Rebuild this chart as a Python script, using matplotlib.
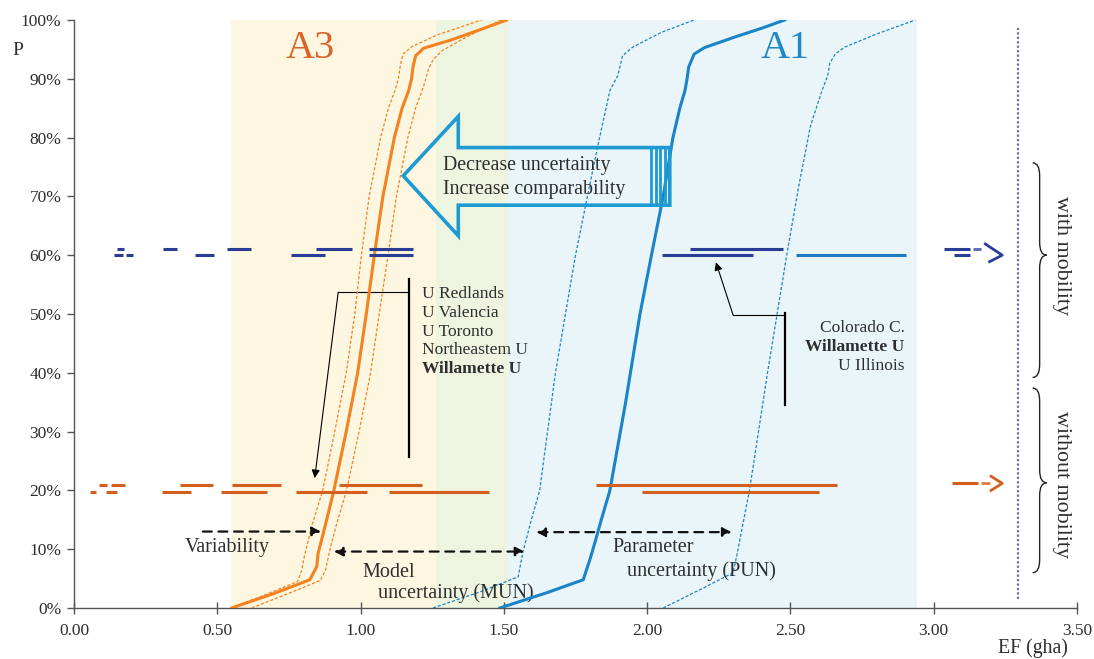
import matplotlib
matplotlib.use("Agg")
import matplotlib.pyplot as plt
from matplotlib.path import Path
from matplotlib.patches import PathPatch, Polygon
from matplotlib.ticker import FuncFormatter

plt.rcParams['font.family'] = ['Liberation Serif', 'DejaVu Serif']

# ---------------- data ----------------
# A3 cumulative curves (EF in gha, P in %)
a3_mid_x = [0.55, 0.70, 0.823, 0.847, 0.852, 0.87, 0.907, 0.95, 0.99, 1.02, 1.048, 1.078, 1.118, 1.145, 1.168, 1.178, 1.183, 1.192, 1.22, 1.316, 1.42, 1.51]
a3_mid_p = [0, 2.5, 4.8, 7, 9.3, 12.7, 20, 30, 40, 50, 60, 70, 80, 85, 88, 90, 92, 93.9, 95.2, 96.6, 98.4, 100]
a3_lo_x = [0.55, 0.68, 0.78, 0.795, 0.805, 0.83, 0.868, 0.91, 0.95, 0.98, 1.003, 1.03, 1.07, 1.097, 1.12, 1.132, 1.138, 1.148, 1.18, 1.27, 1.422]
a3_lo_p = [0, 2.5, 4.5, 6.5, 9, 14, 20, 30, 40, 50, 60, 70, 80, 85, 88, 90, 92, 94.2, 95.5, 97.5, 100]
a3_hi_x = [0.62, 0.75, 0.86, 0.878, 0.893, 0.915, 0.951, 0.995, 1.035, 1.065, 1.096, 1.125, 1.165, 1.192, 1.215, 1.228, 1.238, 1.254, 1.285, 1.37, 1.49]
a3_hi_p = [0, 2.5, 4.7, 6.5, 9.9, 14, 20, 30, 40, 50, 60, 70, 80, 85, 88, 90, 91.8, 93.3, 94.8, 97.1, 100]

# A1 cumulative curves
a1_mid_x = [1.486, 1.65, 1.777, 1.80, 1.817, 1.84, 1.87, 1.925, 1.975, 2.015, 2.056, 2.09, 2.114, 2.132, 2.139, 2.145, 2.164, 2.20, 2.312, 2.40, 2.48]
a1_mid_p = [0, 2.6, 4.8, 8.2, 11, 15, 20, 35, 50, 60, 70, 80, 85, 88, 89.9, 92, 94.2, 95.3, 97.2, 98.6, 100]
a1_lo_x = [1.253, 1.42, 1.55, 1.567, 1.596, 1.625, 1.68, 1.75, 1.80, 1.834, 1.87, 1.897, 1.905, 1.914, 1.95, 2.05, 2.164]
a1_lo_p = [0, 2.8, 5.3, 9.6, 15, 20, 40, 60, 72, 80, 88, 90.5, 92, 93.9, 95.4, 97.9, 100]
a1_hi_x = [2.056, 2.20, 2.30, 2.312, 2.325, 2.357, 2.42, 2.487, 2.53, 2.57, 2.61, 2.63, 2.637, 2.656, 2.69, 2.80, 2.936]
a1_hi_p = [0, 3.5, 6, 8.75, 12, 20, 40, 60, 72, 82, 88, 90.5, 92.6, 94.2, 95.4, 97.6, 100]

# shaded regions (EF ranges)
region_a3 = (0.548, 1.514)
region_a1 = (1.263, 2.94)

# horizontal ranges "with mobility" (~60%)
mob_upper = [(0.151, 0.175), (0.312, 0.358), (0.533, 0.617), (0.844, 0.971), (1.030, 1.184), (2.149, 2.474)]
mob_lower = [(0.140, 0.172), (0.180, 0.207), (0.422, 0.489), (0.756, 0.875), (1.030, 1.184), (2.053, 2.369)]
mob_lower_light = [(2.521, 2.904)]
# horizontal ranges "without mobility" (~20%)
nomob_upper = [(0.088, 0.117), (0.131, 0.178), (0.370, 0.486), (0.552, 0.724), (0.925, 1.213), (1.823, 2.662)]
nomob_lower = [(0.056, 0.077), (0.112, 0.149), (0.306, 0.407), (0.513, 0.674), (0.774, 1.021), (1.100, 1.449), (1.982, 2.600)]

univ_a3 = ["U Redlands", "U Valencia", "U Toronto", "Northeastem U", "Willamette U"]
univ_a1 = ["Colorado C.", "Willamette U", "U Illinois"]

x_ticks = [0.0, 0.5, 1.0, 1.5, 2.0, 2.5, 3.0, 3.5]
y_ticks = [0, 10, 20, 30, 40, 50, 60, 70, 80, 90, 100]

# ---------------- colors ----------------
ORANGE = '#F58220'
BLUE = '#1B84C8'
NAVY = '#2A3D96'
LBLUE = '#1E78C2'
RUST = '#D35E1E'
ARROWBLUE = '#1E9AD3'
TXT = '#2E2E2E'

fig = plt.figure(figsize=(10.94, 6.59), dpi=100)
ax = fig.add_axes([0.0676, 0.0774, 0.9169, 0.8923])
ax.set_xlim(0, 3.5)
ax.set_ylim(0, 100)

# background regions
ax.axvspan(region_a3[0], region_a1[0], color='#FDF6E1', lw=0, zorder=0)
ax.axvspan(region_a1[0], region_a3[1], color='#EDF5E1', lw=0, zorder=0)
ax.axvspan(region_a3[1], region_a1[1], color='#E9F5F8', lw=0, zorder=0)

# curves
dash = (0, (2.5, 1.5))
ax.plot(a3_lo_x, a3_lo_p, color=ORANGE, lw=0.9, ls=dash, zorder=3)
ax.plot(a3_hi_x, a3_hi_p, color=ORANGE, lw=0.9, ls=dash, zorder=3)
ax.plot(a3_mid_x, a3_mid_p, color=ORANGE, lw=2.2, zorder=4, solid_joinstyle='round')
ax.plot(a1_lo_x, a1_lo_p, color=BLUE, lw=0.9, ls=dash, zorder=3)
ax.plot(a1_hi_x, a1_hi_p, color=BLUE, lw=0.9, ls=dash, zorder=3)
ax.plot(a1_mid_x, a1_mid_p, color=BLUE, lw=2.2, zorder=4, solid_joinstyle='round')

# horizontal range segments
def segs(lst, y, color):
    for a, b in lst:
        ax.plot([a, b], [y, y], color=color, lw=2.2, solid_capstyle='butt', zorder=5)

segs(mob_upper, 61.0, NAVY)
segs(mob_lower, 60.0, NAVY)
segs(mob_lower_light, 60.0, LBLUE)
segs(nomob_upper, 21.0, RUST)
segs(nomob_lower, 19.8, RUST)

# continuation arrows on the right
ax.plot([3.037, 3.125], [61.0, 61.0], color=NAVY, lw=2.2, solid_capstyle='butt')
ax.plot([3.072, 3.125], [60.0, 60.0], color=NAVY, lw=2.2, solid_capstyle='butt')
ax.plot([3.137, 3.166], [61.0, 61.0], color='#5565B5', lw=2.0, solid_capstyle='butt')
ax.plot([3.180, 3.239, 3.195], [61.9, 60.0, 58.9], color=NAVY, lw=2.0)
ax.plot([3.065, 3.154], [21.2, 21.2], color=RUST, lw=2.2, solid_capstyle='butt')
ax.plot([3.166, 3.198], [21.2, 21.2], color='#E07B45', lw=2.0, solid_capstyle='butt')
ax.plot([3.200, 3.239, 3.200], [22.4, 21.2, 20.0], color=RUST, lw=2.0)

# dotted vertical separator
ax.plot([3.293, 3.293], [1.5, 98.6], color='#6670AA', lw=1.6, ls=(0, (1, 1)))

# braces
def brace(x0, x1, ytop, ybot, ymid, r=2.2):
    xm = (x0 + x1) / 2
    verts = [(x0, ytop), (xm, ytop), (xm, ytop - r),
             (xm, ymid + r), (xm, ymid), (x1, ymid),
             (xm, ymid), (xm, ymid - r),
             (xm, ybot + r), (xm, ybot), (x0, ybot)]
    codes = [Path.MOVETO, Path.CURVE3, Path.CURVE3,
             Path.LINETO, Path.CURVE3, Path.CURVE3,
             Path.CURVE3, Path.CURVE3,
             Path.LINETO, Path.CURVE3, Path.CURVE3]
    ax.add_patch(PathPatch(Path(verts, codes), fill=False, lw=1.0, color='#222222'))

brace(3.345, 3.394, 75.7, 39.2, 60.0)
brace(3.345, 3.394, 37.4, 6.0, 21.3)
ax.text(3.447, 60.0, "with mobility", rotation=270, ha='center', va='center', fontsize=15.8, color=TXT)
ax.text(3.447, 21.0, "without mobility", rotation=270, ha='center', va='center', fontsize=15.8, color=TXT)

# big hollow arrow
arrow_pts = [(1.149, 73.5), (1.341, 83.6), (1.341, 78.3), (2.079, 78.3),
             (2.079, 68.5), (1.341, 68.5), (1.341, 63.3)]
ax.add_patch(Polygon(arrow_pts, closed=True, fill=False, ec=ARROWBLUE, lw=2.6, joinstyle='miter', zorder=6))
for xb in [2.015, 2.030, 2.046, 2.062]:
    ax.plot([xb, xb], [68.5, 78.3], color=ARROWBLUE, lw=2.0, zorder=6)
ax.text(1.286, 75.3, "Decrease uncertainty", fontsize=14.3, color=TXT, va='center', ha='left', zorder=7)
ax.text(1.286, 71.1, "Increase comparability", fontsize=14.3, color=TXT, va='center', ha='left', zorder=7)

# region labels
ax.text(0.823, 95.2, "A3", fontsize=29, color='#D8652A', ha='center', va='center')
ax.text(2.48, 95.2, "A1", fontsize=29, color='#1E88C8', ha='center', va='center')

# university lists
y0 = 53.4
for i, name in enumerate(univ_a3):
    ax.text(1.214, y0 - i * 3.19, name, fontsize=12.5, color=TXT, va='center', ha='left',
            fontweight='bold' if name == "Willamette U" else 'normal')
y1 = 47.6
for i, name in enumerate(univ_a1):
    ax.text(2.898, y1 - i * 3.19, name, fontsize=12.5, color=TXT, va='center', ha='right',
            fontweight='bold' if i == 1 else 'normal')

# annotation leader lines
ax.plot([1.169, 1.169], [25.6, 55.9], color='black', lw=1.6)
ax.plot([1.169, 0.922], [53.7, 53.7], color='black', lw=0.8)
ax.annotate("", xy=(0.840, 22.1), xytext=(0.922, 53.7),
            arrowprops=dict(arrowstyle='-|>', color='black', lw=0.8, mutation_scale=12, shrinkA=0, shrinkB=0))
ax.plot([2.481, 2.481], [34.5, 50.2], color='black', lw=1.6)
ax.plot([2.481, 2.30], [49.8, 49.8], color='black', lw=0.8)
ax.annotate("", xy=(2.240, 58.8), xytext=(2.30, 49.8),
            arrowprops=dict(arrowstyle='-|>', color='black', lw=0.8, mutation_scale=12, shrinkA=0, shrinkB=0))

# dashed uncertainty arrows
dash_kw = dict(color='#111111', lw=1.6, linestyle=(0, (4, 3)), mutation_scale=13, shrinkA=0, shrinkB=0)
ax.annotate("", xy=(0.862, 13.0), xytext=(0.45, 13.0), arrowprops=dict(arrowstyle='-|>', **dash_kw))
ax.annotate("", xy=(1.572, 9.6), xytext=(0.907, 9.6), arrowprops=dict(arrowstyle='<|-|>', **dash_kw))
ax.annotate("", xy=(2.295, 12.9), xytext=(1.613, 12.9), arrowprops=dict(arrowstyle='<|-|>', **dash_kw))

ax.text(0.385, 10.3, "Variability", fontsize=14.5, color=TXT, ha='left', va='center')
ax.text(1.008, 6.0, "Model", fontsize=14.5, color=TXT, ha='left', va='center')
ax.text(1.06, 2.5, "uncertainty (MUN)", fontsize=14.5, color=TXT, ha='left', va='center')
ax.text(1.88, 10.3, "Parameter", fontsize=14.5, color=TXT, ha='left', va='center')
ax.text(1.929, 6.2, "uncertainty (PUN)", fontsize=14.5, color=TXT, ha='left', va='center')

# axes styling
for s in ['top', 'right']:
    ax.spines[s].set_visible(False)
for s in ['left', 'bottom']:
    ax.spines[s].set_color('#555555')
    ax.spines[s].set_linewidth(1.0)
ax.set_xticks(x_ticks)
ax.set_yticks(y_ticks)
ax.xaxis.set_major_formatter(FuncFormatter(lambda v, p: f"{v:.2f}"))
ax.yaxis.set_major_formatter(FuncFormatter(lambda v, p: f"{int(round(v))}%"))
ax.tick_params(axis='x', direction='inout', length=8, width=1, colors='#555555', labelcolor=TXT, labelsize=12.5, pad=7)
ax.tick_params(axis='y', direction='out', length=5, width=1, colors='#555555', labelcolor=TXT, labelsize=12.5, pad=4)

fig.text(0.0165, 0.924, "P", fontsize=14, color=TXT, ha='center', va='center')
fig.text(0.944, 0.0167, "EF (gha)", fontsize=14.2, color=TXT, ha='center', va='center')

fig.savefig("out.png", dpi=100)
